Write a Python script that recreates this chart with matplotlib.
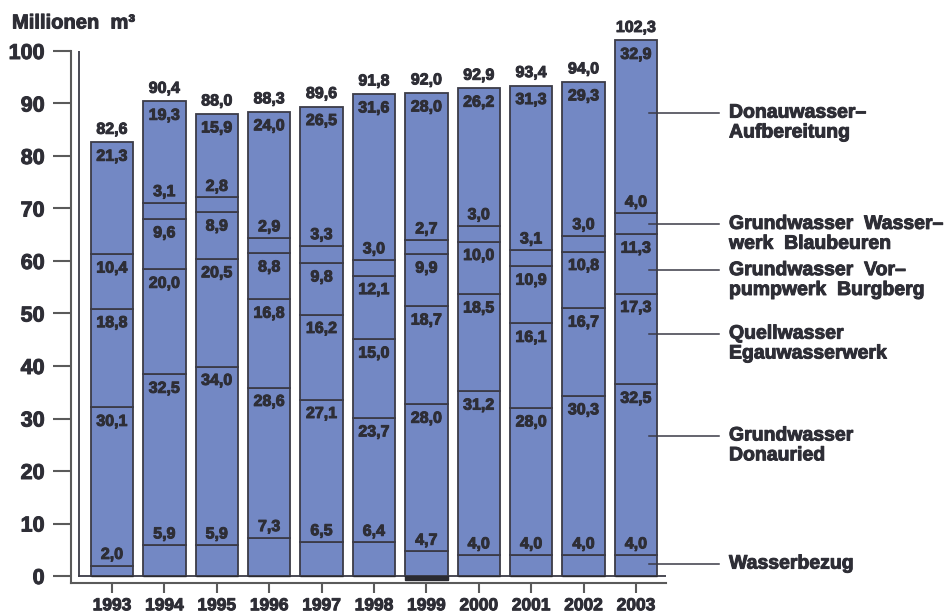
import numpy as np
import matplotlib
matplotlib.use("Agg")
import matplotlib.pyplot as plt
import matplotlib.patheffects as pe

plt.rcParams["font.family"] = ["Liberation Sans", "DejaVu Sans"]
plt.rcParams["font.weight"] = "bold"

YEARS = ["1993", "1994", "1995", "1996", "1997", "1998",
         "1999", "2000", "2001", "2002", "2003"]

# Mio m³ per source, bottom to top
wasserbezug = [2.0, 5.9, 5.9, 7.3, 6.5, 6.4, 4.7, 4.0, 4.0, 4.0, 4.0]
donauried   = [30.1, 32.5, 34.0, 28.6, 27.1, 23.7, 28.0, 31.2, 28.0, 30.3, 32.5]
egau        = [18.8, 20.0, 20.5, 16.8, 16.2, 15.0, 18.7, 18.5, 16.1, 16.7, 17.3]
burgberg    = [10.4, 9.6, 8.9, 8.8, 9.8, 12.1, 9.9, 10.0, 10.9, 10.8, 11.3]
blaubeuren  = [0.0, 3.1, 2.8, 2.9, 3.3, 3.0, 2.7, 3.0, 3.1, 3.0, 4.0]
donauwasser = [21.3, 19.3, 15.9, 24.0, 26.5, 31.6, 28.0, 26.2, 31.3, 29.3, 32.9]
abgabe      = [0, 0, 0, 0, 0, 0, -0.7, 0, 0, 0, 0]
totals      = [82.6, 90.4, 88.0, 88.3, 89.6, 91.8, 92.0, 92.9, 93.4, 94.0, 102.3]

SERIES = [wasserbezug, donauried, egau, burgberg, blaubeuren, donauwasser]
LEGEND = [
    ("Donauwasser–\nAufbereitung", 88.2),
    ("Grundwasser  Wasser–\nwerk  Blaubeuren", 67.0),
    ("Grundwasser  Vor–\npumpwerk  Burgberg", 58.2),
    ("Quellwasser\nEgauwasserwerk", 46.1),
    ("Grundwasser\nDonauried", 26.7),
    ("Wasserbezug", 2.3),
]

BAR = "#7388c4"
EDGE = "#3b3b47"
TXT = "#2e2e36"
AXC = "#5a5a5a"
HEAVY = [pe.withStroke(linewidth=0.7, foreground=TXT)]

W, H = 948, 614
fig = plt.figure(figsize=(W / 100, H / 100), dpi=100)
# axes box: outer frame from x=71..666 px, y=51..583 px
ax = fig.add_axes([71 / W, (H - 583) / H, (666 - 71) / W, (583 - 51) / H])
x = np.arange(len(YEARS))
pitch = 52.4
ax.set_xlim((71 - 112) / pitch, (666 - 112) / pitch)
ax.set_ylim(-7 / 5.25, 100)

def fmt(v):
    return f"{v:.1f}".replace(".", ",")

bottom = np.zeros(len(YEARS))
for k, s in enumerate(SERIES):
    s = np.array(s)
    ax.bar(x, s, 0.81, bottom=bottom, color=BAR, edgecolor=EDGE,
           linewidth=1.3, zorder=3, clip_on=False)
    top = bottom + s
    for i, v in enumerate(s):
        if v <= 0:
            continue
        # small segments get their label above the segment
        dy = 8 if k in (0, 4) else -10
        ax.annotate(fmt(v), (x[i], top[i]), xytext=(0, dy),
                    textcoords="offset points", ha="center", va="center",
                    fontsize=11.5, color=TXT, zorder=5, path_effects=HEAVY,
                    annotation_clip=False)
    bottom = top

ax.bar(x, abgabe, 0.81, color="#2a2a30", edgecolor="#2a2a30", linewidth=1, zorder=3)

for i, t in enumerate(totals):
    ax.annotate(fmt(t), (x[i], bottom[i]), xytext=(0, 4),
                textcoords="offset points", ha="center", va="bottom",
                fontsize=11.5, color=TXT, path_effects=HEAVY,
                annotation_clip=False)

# inner frame at zero line
x_in = (79 - 112) / pitch
ax.plot([x_in, x_in], [0, 100], color=EDGE, lw=1.3, zorder=2)
ax.plot([x_in, ax.get_xlim()[1]], [0, 0], color=EDGE, lw=1.3, zorder=2)

for side in ("top", "right"):
    ax.spines[side].set_visible(False)
for side in ("left", "bottom"):
    ax.spines[side].set_color(AXC)
    ax.spines[side].set_linewidth(1.5)

ax.set_yticks(range(0, 101, 10))
ax.set_yticklabels([str(v) for v in range(0, 101, 10)], fontsize=15.5, color=TXT)
ax.tick_params(axis="y", direction="out", length=13, width=1.5, color=AXC, pad=6)
ax.set_xticks(x)
ax.set_xticklabels(YEARS, fontsize=12.5, color=TXT)
ax.tick_params(axis="x", direction="out", length=7.5, width=1.5, color=AXC, pad=3.5)
for lbl in ax.get_xticklabels() + ax.get_yticklabels():
    lbl.set_path_effects(HEAVY)

# legend with leader lines from the 2003 bar
x0 = (649 - 112) / pitch
x1 = (719 - 112) / pitch
xt = (729 - 112) / pitch
for label, yv in LEGEND:
    ax.plot([x0, x1], [yv, yv], color=EDGE, lw=1.1, clip_on=False, zorder=6)
    ax.annotate(label, (xt, yv), xytext=(0, 6), textcoords="offset points",
                ha="left", va="top", fontsize=14, color=TXT,
                linespacing=1.22, annotation_clip=False, path_effects=HEAVY)

fig.text(12 / W, 1 - 23 / H, "Millionen  m³", fontsize=14.5, color=TXT,
         ha="left", va="center", path_effects=HEAVY)

fig.savefig("out.png", dpi=100)
